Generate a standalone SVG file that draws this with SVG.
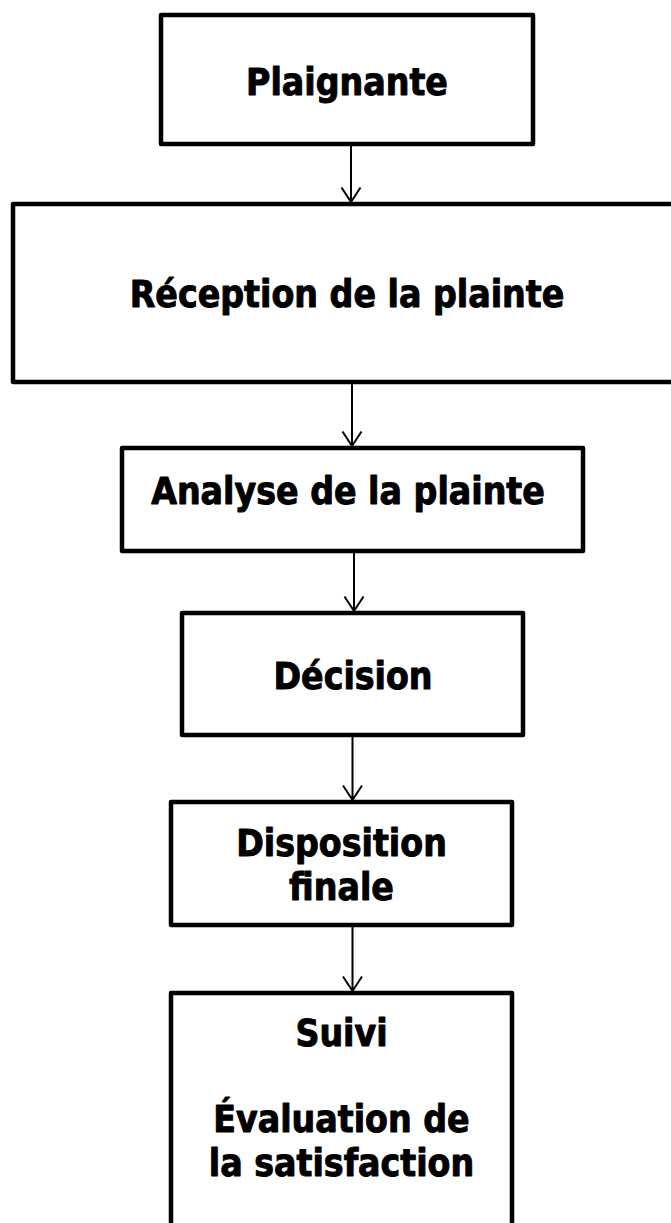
<svg xmlns="http://www.w3.org/2000/svg" width="671" height="1223" viewBox="0 0 671 1223">
<style>
.box{fill:#fff;stroke:#000;stroke-width:4.5;stroke-linejoin:round}
.lbl{font-family:"DejaVu Sans Condensed","DejaVu Sans",sans-serif;font-stretch:condensed;font-weight:bold;font-size:37px;fill:#000;stroke:#000;stroke-width:0.9;stroke-linejoin:round;text-anchor:middle}
.conn{stroke:#000;stroke-width:2;fill:none}
</style>
<rect width="671" height="1223" fill="#fff"/>
<g id="n1"><rect class="box" x="161" y="15" width="372" height="129"/><text class="lbl" x="347" y="95">Plaignante</text></g>
<g id="n2"><rect class="box" x="13" y="204" width="680" height="178"/><text class="lbl" x="347" y="307">Réception de la plainte</text></g>
<g id="n3"><rect class="box" x="122" y="448" width="461" height="103"/><text class="lbl" x="348" y="504">Analyse de la plainte</text></g>
<g id="n4"><rect class="box" x="182" y="613" width="341" height="122"/><text class="lbl" x="353" y="689">Décision</text></g>
<g id="n5"><rect class="box" x="171" y="802" width="341" height="123"/><text class="lbl" x="341.5" y="856">Disposition</text><text class="lbl" x="341.5" y="900">finale</text></g>
<g id="n6"><rect class="box" x="171" y="993" width="341" height="260"/><text class="lbl" x="341.5" y="1046">Suivi</text><text class="lbl" x="341.5" y="1132">Évaluation de</text><text class="lbl" x="341.5" y="1176">la satisfaction</text></g>
<g id="connectors">
<path class="conn" d="M351 146V202M341.5 187.5L351 202L360.5 187.5"/>
<path class="conn" d="M352 384V446M342.5 431.5L352 446L361.5 431.5"/>
<path class="conn" d="M354 553V611M344.5 596.5L354 611L363.5 596.5"/>
<path class="conn" d="M352.5 737V800M343 785.5L352.5 800L362 785.5"/>
<path class="conn" d="M352.5 927V991M343 976.5L352.5 991L362 976.5"/>
</g>
</svg>
